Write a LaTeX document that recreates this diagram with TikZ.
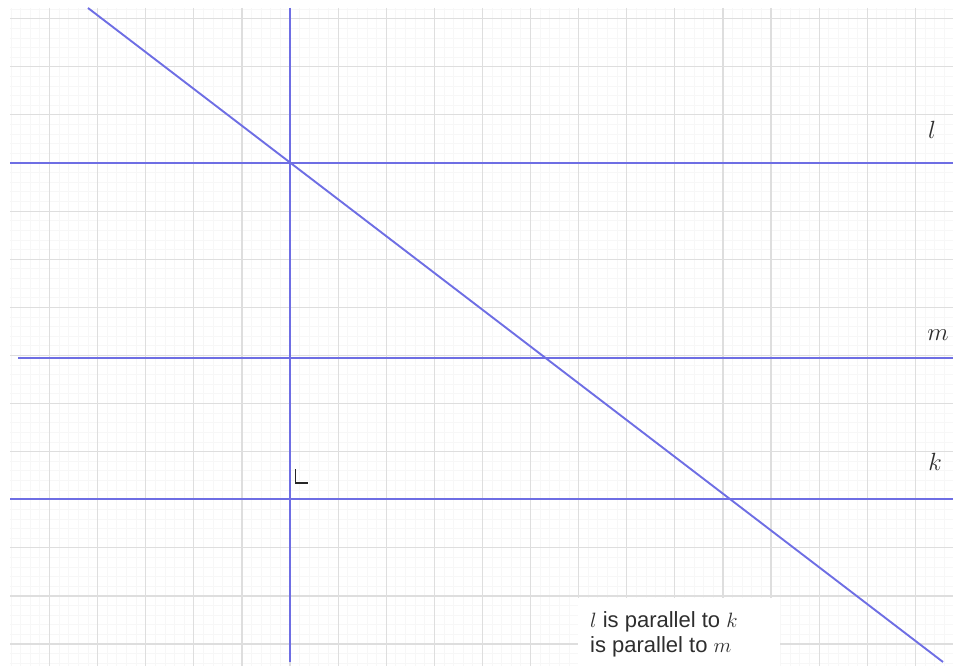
\documentclass[tikz,border=0pt]{standalone}
\usepackage{fontspec}
\newfontfamily\notefont{Liberation Sans}
\definecolor{lineblue}{RGB}{110,110,228}
\definecolor{gridgray}{RGB}{222,222,222}
\definecolor{finegray}{RGB}{247,247,247}

\begin{document}
\begin{tikzpicture}[
    x=1pt, y=-1pt,
    majorgrid/.style={draw=gridgray, line width=1.2pt},
    minorgrid/.style={draw=finegray, line width=0.8pt},
    bline/.style={draw=lineblue, line width=1.9pt},
    lbl/.style={font=\fontsize{29}{34}\selectfont, text=black!82, inner sep=0pt},
    note/.style={font=\notefont\fontsize{22}{25}\selectfont, text=black!82, inner sep=0pt, anchor=base west},
  ]
  \useasboundingbox (0,0) rectangle (953,666);

  % ---- Grid paper ----
  \foreach \i in {-29,...,68}
    \draw[minorgrid] ({290+9.62*\i},8) -- ({290+9.62*\i},666);
  \foreach \j in {-16,...,52}
    \draw[minorgrid] (10,{163+9.62*\j}) -- (953,{163+9.62*\j});
  \foreach \i in {-5,...,13}
    \draw[majorgrid] ({290+48.1*\i},8) -- ({290+48.1*\i},666);
  \foreach \j in {-3,...,10}
    \draw[majorgrid] (10,{163+48.1*\j}) -- (953,{163+48.1*\j});

  % ---- Line ends ----
  \coordinate (lW) at (10,163);  \coordinate (lE) at (953,163);
  \coordinate (mW) at (18,358);  \coordinate (mE) at (953,358);
  \coordinate (kW) at (10,499);  \coordinate (kE) at (953,499);
  \coordinate (vN) at (290,8);   \coordinate (vS) at (290,662);
  \coordinate (tN) at (88,8);    \coordinate (tS) at (943,662);

  % ---- Lines ----
  \draw[bline] (lW) -- (lE);
  \draw[bline] (mW) -- (mE);
  \draw[bline] (kW) -- (kE);
  \draw[bline] (vN) -- (vS);
  \draw[bline] (tN) -- (tS);

  % ---- Right angle mark ----
  \draw[line width=1.3pt, black!85] (295.5,469) -- (295.5,483) -- (308,483);

  % ---- Line labels ----
  \node[lbl] (labl) at (932,130) {$l$};
  \node[lbl] (labm) at (938,335) {$m$};
  \node[lbl] (labk) at (935,462) {$k$};

  % ---- Note ----
  \fill[white] (578,598) rectangle (780,666);
  \node[note] (note1) at (590,627) {$l$ is parallel to $k$};
  \node[note] (note2) at (590,652) {is parallel to $m$};

\end{tikzpicture}
\end{document}
